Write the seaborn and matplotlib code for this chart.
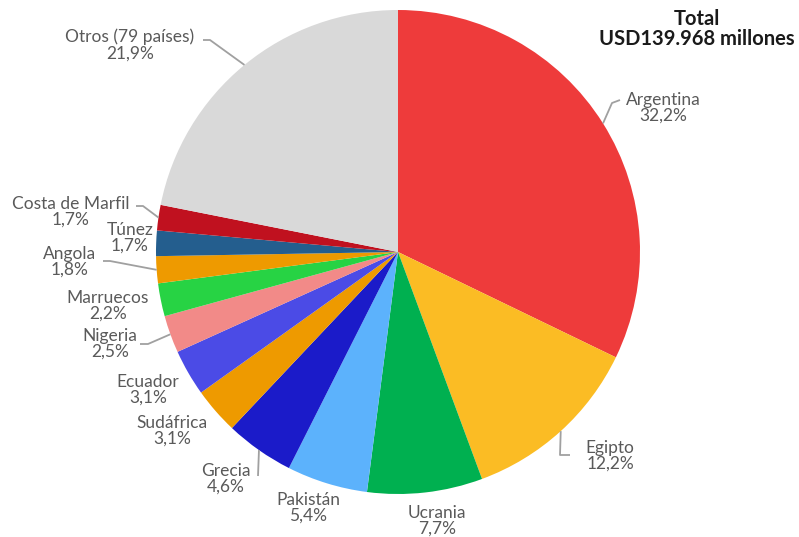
import numpy as np
import seaborn as sns
from matplotlib import pyplot as plt

# data, clockwise from the top
countries = ["Argentina", "Egipto", "Ucrania", "Pakistán", "Grecia", "Sudáfrica",
             "Ecuador", "Nigeria", "Marruecos", "Angola", "Túnez", "Costa de Marfil",
             "Otros (79 países)"]
shares = [32.2, 12.2, 7.7, 5.4, 4.6, 3.1, 3.1, 2.5, 2.2, 1.8, 1.7, 1.7, 21.9]
share_labels = ["32,2%", "12,2%", "7,7%", "5,4%", "4,6%", "3,1%", "3,1%", "2,5%",
                "2,2%", "1,8%", "1,7%", "1,7%", "21,9%"]
colors = ["#EE3B3B", "#FBBC24", "#00B050", "#5CB2FC", "#1B1BC9", "#EE9A00",
          "#4B4BE6", "#F28A88", "#27D344", "#EE9A00", "#245E8E", "#C0111F",
          "#D9D9D9"]
title_lines = ["Total", "USD139.968 millones"]

sns.set_style("white")
plt.rcParams["font.family"] = ["Lato", "DejaVu Sans"]

W, H = 799, 537
fig = plt.figure(figsize=(W / 100, H / 100), dpi=100)
ax = fig.add_axes([0, 0, 1, 1])

cx, cy, r = 398, H - 252, 242
ax.pie(shares, colors=colors, startangle=90, counterclock=False,
       center=(cx, cy), radius=r, wedgeprops={"linewidth": 0}, frame=True)
ax.set_xlim(0, W)
ax.set_ylim(0, H)
ax.set_aspect("equal")
ax.axis("off")

# label layout in pixel coords (x, y of label centre, from top), optional leader elbow/end
layout = {
    "Argentina": ((663, 108), [(612, 103), (620, 100)]),
    "Egipto": ((610, 456), [(560, 455), (570, 455)]),
    "Ucrania": ((437, 521), None),
    "Pakistán": ((308, 508), None),
    "Grecia": ((226, 479), [(258, 476), (258, 476)]),
    "Sudáfrica": ((172, 431), None),
    "Ecuador": ((148, 390), None),
    "Nigeria": ((110, 344), [(148, 344), (140, 344)]),
    "Marruecos": ((108, 306), None),
    "Angola": ((70, 262), [(110, 261), (103, 261)]),
    "Túnez": ((130, 238), None),
    "Costa de Marfil": ((71, 212), [(143, 206), (136, 206)]),
    "Otros (79 países)": ((130, 45), [(210, 40), (203, 40)]),
}

cum = np.cumsum([0] + shares[:-1])
total = sum(shares)
for name, share, lab, start in zip(countries, shares, share_labels, cum):
    (tx, ty), leader = layout[name]
    ax.text(tx, H - ty, f"{name}\n{lab}", ha="center", va="center",
            fontsize=12.5, color="#5a5a5a", linespacing=0.98)
    if leader:
        ang = np.deg2rad((start + share / 2) / total * 360)
        ex, ey = cx + r * np.sin(ang), cy + r * np.cos(ang)
        xs = [ex] + [p[0] for p in leader]
        ys = [ey] + [H - p[1] for p in leader]
        ax.plot(xs, ys, color="#A0A0A0", lw=1.3, solid_capstyle="butt")

ax.text(697, H - 29, "\n".join(title_lines), ha="center", va="center",
        fontsize=14.5, fontweight="bold", color="#1a1a1a", linespacing=0.98)

fig.savefig("out.png", dpi=100)
